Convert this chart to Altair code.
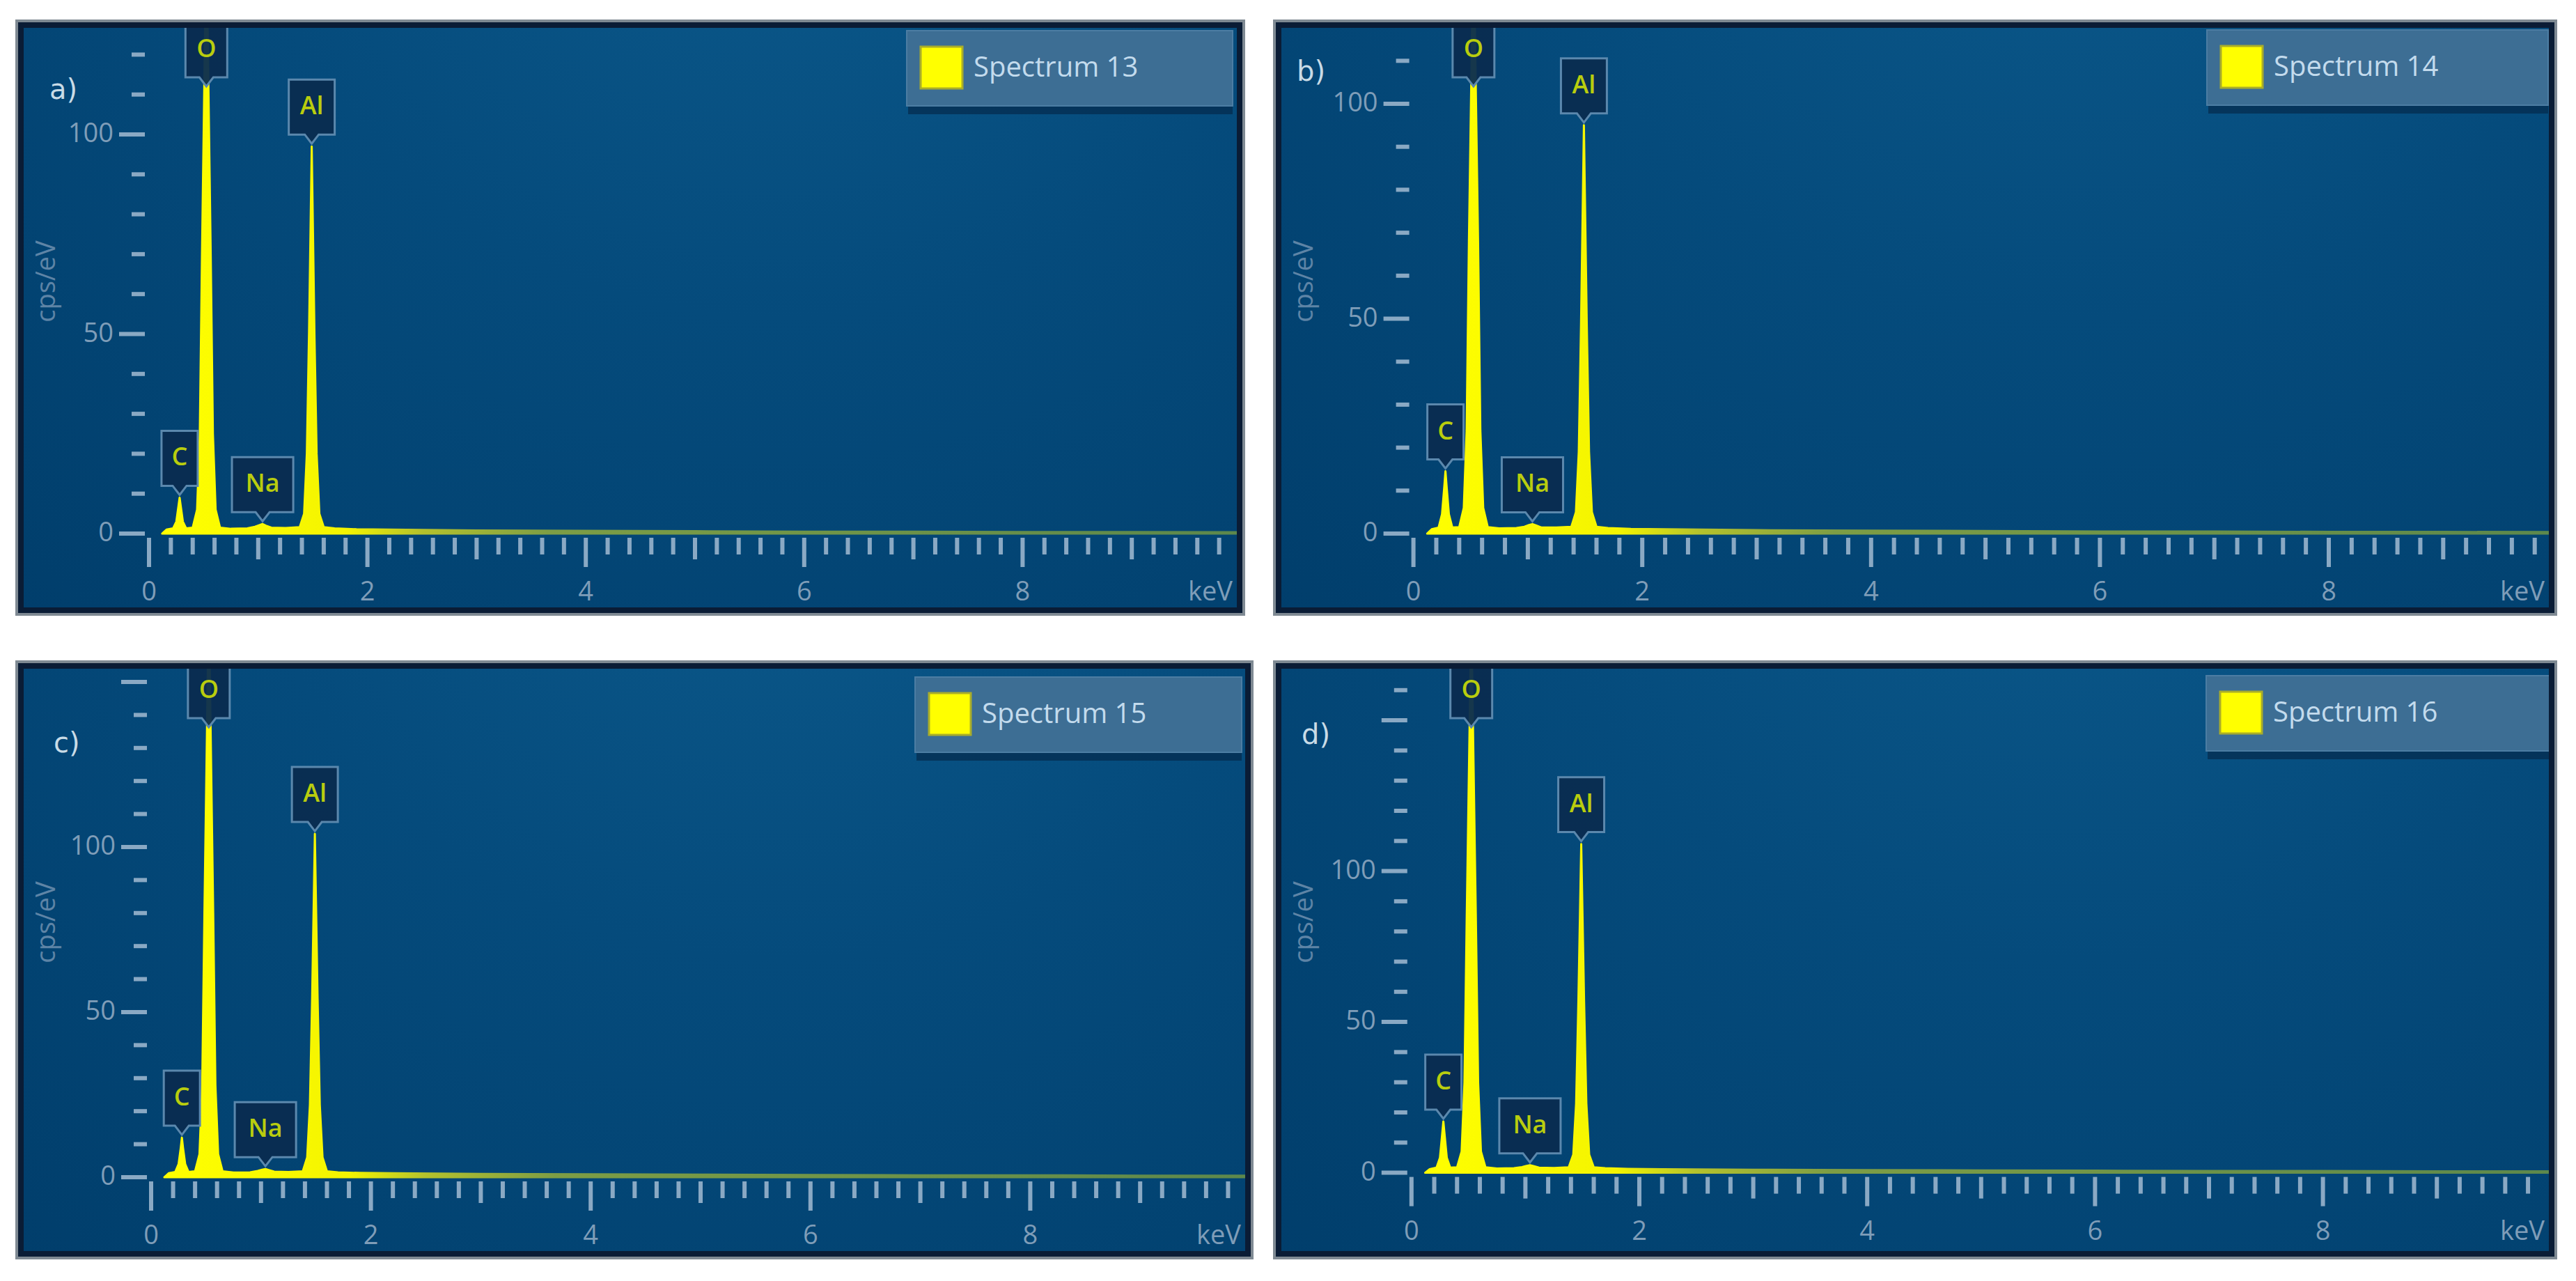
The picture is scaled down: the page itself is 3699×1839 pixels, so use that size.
import altair as alt
import pandas as pd

# ------------------------------------------------------------------ data
panel_tags = ["a)", "b)", "c)", "d)"]
spectrum_names = ["Spectrum 13", "Spectrum 14", "Spectrum 15", "Spectrum 16"]

elements = ["C", "O", "Na", "Al"]
element_kev = [0.28, 0.525, 1.04, 1.49]

energy_kev = [0.12, 0.16, 0.22, 0.25, 0.27, 0.28, 0.29, 0.31, 0.34, 0.40,
              0.44, 0.465, 0.485, 0.525, 0.565, 0.585, 0.61, 0.65, 0.75, 0.90,
              0.97, 1.01, 1.04, 1.07, 1.12, 1.25, 1.38, 1.42, 1.445, 1.465,
              1.49, 1.515, 1.535, 1.56, 1.60, 1.70, 1.90, 2.20, 3.0, 4.0,
              5.0, 6.0, 7.0, 8.0, 9.0, 10.0]

counts_13 = [0, 1.0, 1.3, 3, 7, 9, 7, 3, 1.3, 1.5,
             6, 25, 70, 150, 70, 25, 6, 1.5, 1.2, 1.3,
             1.7, 2.1, 2.4, 2.0, 1.5, 1.4, 1.6, 5, 20, 50,
             97, 50, 20, 5, 1.6, 1.3, 1.1, 1.0, 0.8, 0.7,
             0.6, 0.5, 0.5, 0.4, 0.4, 0.35]
counts_14 = [0, 1.0, 1.4, 4.5, 11, 14.5, 11, 4.5, 1.4, 1.5,
             6, 24, 68, 140, 68, 24, 6, 1.5, 1.2, 1.3,
             1.6, 2.0, 2.2, 1.9, 1.4, 1.4, 1.6, 5, 19, 49,
             95, 49, 19, 5, 1.6, 1.3, 1.1, 1.0, 0.8, 0.7,
             0.6, 0.5, 0.5, 0.4, 0.4, 0.35]
counts_15 = [0, 1.2, 1.6, 4, 9, 12, 9, 4, 1.6, 1.8,
             7, 28, 80, 175, 80, 28, 7, 1.8, 1.4, 1.5,
             1.9, 2.3, 2.5, 2.2, 1.7, 1.6, 1.8, 6, 22, 54,
             104, 54, 22, 6, 1.8, 1.5, 1.3, 1.2, 1.0, 0.9,
             0.8, 0.7, 0.6, 0.6, 0.5, 0.5]
counts_16 = [0, 1.2, 1.7, 5, 13, 17, 13, 5, 1.7, 1.8,
             7, 30, 85, 185, 85, 30, 7, 1.8, 1.4, 1.5,
             1.9, 2.3, 2.5, 2.2, 1.7, 1.6, 1.8, 6, 23, 57,
             109, 57, 23, 6, 1.8, 1.5, 1.3, 1.2, 1.0, 0.9,
             0.8, 0.7, 0.6, 0.6, 0.5, 0.5]
all_counts = [counts_13, counts_14, counts_15, counts_16]

y_major_ticks = [0, 50, 100, 150]
y_tick_labels = [0, 50, 100]
y_minor_ticks = [10, 20, 30, 40, 60, 70, 80, 90, 110, 120, 130, 140, 160]
x_tick_labels = [0, 2, 4, 6, 8]
x_odd_ticks = [1, 3, 5, 7, 9]
x_fine_ticks = [round(i * 0.2, 1) for i in range(1, 50) if i % 5 != 0]

# ------------------------------------------------------------------ layout / style
PANEL_W = [1766, 1844, 1778, 1844]
PANEL_H = [856, 856, 860, 860]
X0_PX = [192, 201.6, 195, 198.8]        # pixel of 0 keV from panel left
PX_PER_KEV = [156.8, 164.3, 157.8, 163.6]
Y0_PX = [738, 738, 742, 735.6]          # pixel of 0 cps/eV from panel top
PX_PER_UNIT = [5.73, 6.17, 4.74, 4.33]
TAG_POS = [(49, 102), (34, 76), (55, 120), (41, 108)]
LEGEND_W = [468, 490, 469, 495]
LEGEND_TOP = [16, 15, 24, 22]
LEGEND_RIGHT_INSET = [18, 13, 17, 9]
LEGEND_H = 108
TOP_LABEL_TIP_PX = 100                  # clipped-peak label tip, px below panel top

FONT = "Open Sans"
TICK = "#8aa9c4"
LABEL = "#7f9db8"
TITLE = "#5e84a6"
BOX_FILL = "#0a2c50"
BOX_STROKE = "#5b88ad"
EL_COLOR = "#b9cd0e"

bg_grad = alt.RadialGradient(
    gradient="radial", x1=0.62, y1=0.05, r1=0, x2=0.62, y2=0.05, r2=1.0,
    stops=[alt.GradientStop(color="#0d5c8e", offset=0),
           alt.GradientStop(color="#054b7c", offset=0.45),
           alt.GradientStop(color="#003c69", offset=1)])

fill_grad = alt.LinearGradient(
    gradient="linear", x1=0, x2=1, y1=0, y2=0,
    stops=[alt.GradientStop(color="#ffff00", offset=0),
           alt.GradientStop(color="#f4f400", offset=0.17),
           alt.GradientStop(color="#b5c22c", offset=0.24),
           alt.GradientStop(color="#7d9d45", offset=0.36),
           alt.GradientStop(color="#5d884c", offset=1)])


def box_path(half_w_px):
    h = half_w_px / 46.0
    return (f"M{-h:.3f},-1L{h:.3f},-1L{h:.3f},0.717L0.217,0.717L0,1"
            f"L-0.217,0.717L{-h:.3f},0.717Z")


BOX_PATHS = [box_path(26), box_path(30), box_path(44), box_path(33)]


def panel(i):
    W, H = PANEL_W[i], PANEL_H[i]
    x0, pxk, y0, ppu = X0_PX[i], PX_PER_KEV[i], Y0_PX[i], PX_PER_UNIT[i]
    xmin, xmax = -x0 / pxk, (W - x0) / pxk
    ymax, ymin = y0 / ppu, -(H - y0) / ppu
    xs = alt.Scale(domain=[xmin, xmax], nice=False, zero=False)
    ys = alt.Scale(domain=[ymin, ymax], nice=False, zero=False)

    def X(f):
        return alt.X(f, scale=xs, axis=None)

    def Y(f):
        return alt.Y(f, scale=ys, axis=None)

    def XD(v):
        return alt.XDatum(v, scale=xs, axis=None)

    def YD(v):
        return alt.YDatum(v, scale=ys, axis=None)

    one = pd.DataFrame({"k": [0]})
    counts = all_counts[i]

    bg = alt.Chart(one).mark_rect(fill=bg_grad).encode(
        x=XD(xmin), x2=alt.X2Datum(xmax), y=YD(ymin), y2=alt.Y2Datum(ymax))
    # panel frame (kept inside the panel)
    frame_grey = alt.Chart(one).mark_rect(filled=False, stroke="#7f8a93", strokeWidth=4).encode(
        x=alt.value(2), x2=alt.value(W - 2), y=alt.value(2), y2=alt.value(H - 2))
    frame_dark = alt.Chart(one).mark_rect(filled=False, stroke="#0a1c35", strokeWidth=8).encode(
        x=alt.value(8), x2=alt.value(W - 8), y=alt.value(8), y2=alt.value(H - 8))

    spec = pd.DataFrame({"e": energy_kev, "c": counts})
    area = alt.Chart(spec).mark_area(
        clip=True, fill=fill_grad, stroke=fill_grad, strokeWidth=3, strokeJoin="round"
    ).encode(x=X("e:Q"), y=Y("c:Q"), y2=alt.Y2Datum(0))

    # y ticks
    maj = [v for v in y_major_ticks if v <= ymax - 2]
    mnr = [v for v in y_minor_ticks if v <= ymax - 2]
    y_maj = alt.Chart(pd.DataFrame({"v": maj})).mark_rule(
        color=TICK, strokeWidth=6, xOffset=-43, x2Offset=-6
    ).encode(y=Y("v:Q"), x=XD(0), x2=alt.X2Datum(0))
    y_min = alt.Chart(pd.DataFrame({"v": mnr})).mark_rule(
        color=TICK, strokeWidth=6, xOffset=-25, x2Offset=-6
    ).encode(y=Y("v:Q"), x=XD(0), x2=alt.X2Datum(0))
    y_lab = alt.Chart(pd.DataFrame({"v": y_tick_labels})).mark_text(
        align="right", baseline="middle", dx=-51, font=FONT, fontSize=38, color=LABEL
    ).encode(y=Y("v:Q"), x=XD(0), text="v:Q")

    # x ticks
    x_even = alt.Chart(pd.DataFrame({"v": x_tick_labels})).mark_rule(
        color=TICK, strokeWidth=6, yOffset=6, y2Offset=48
    ).encode(x=X("v:Q"), y=YD(0), y2=alt.Y2Datum(0))
    x_odd = alt.Chart(pd.DataFrame({"v": x_odd_ticks})).mark_rule(
        color=TICK, strokeWidth=6, yOffset=6, y2Offset=37
    ).encode(x=X("v:Q"), y=YD(0), y2=alt.Y2Datum(0))
    x_fine = alt.Chart(pd.DataFrame({"v": x_fine_ticks})).mark_rule(
        color=TICK, strokeWidth=6, yOffset=6, y2Offset=30
    ).encode(x=X("v:Q"), y=YD(0), y2=alt.Y2Datum(0))
    x_lab = alt.Chart(pd.DataFrame({"v": x_tick_labels})).mark_text(
        align="center", baseline="alphabetic", dy=96, font=FONT, fontSize=38, color=LABEL
    ).encode(x=X("v:Q"), y=YD(0), text="v:Q")
    kev = alt.Chart(one).mark_text(
        align="right", baseline="alphabetic", dy=96, font=FONT, fontSize=38, color=LABEL
    ).encode(x=alt.value(W - 18), y=YD(0), text=alt.value("keV"))

    # peak label boxes
    peaks = [counts[energy_kev.index(e)] for e in element_kev]
    o_cap = ymax - TOP_LABEL_TIP_PX / ppu
    anchors = [min(p, o_cap) for p in peaks]
    lab_df = pd.DataFrame({"el": elements, "e": element_kev, "a": anchors})
    boxes = alt.Chart(lab_df).mark_point(
        filled=True, fill=BOX_FILL, stroke=BOX_STROKE, strokeWidth=3, size=8464,
        opacity=1, fillOpacity=0.95, yOffset=-50, clip=True
    ).encode(x=X("e:Q"), y=Y("a:Q"),
             shape=alt.Shape("el:N", scale=alt.Scale(domain=elements, range=BOX_PATHS),
                             legend=None))
    el_text = alt.Chart(lab_df).mark_text(
        baseline="middle", align="center", dy=-57, font=FONT, fontSize=36,
        fontWeight=600, color=EL_COLOR, clip=True
    ).encode(x=X("e:Q"), y=Y("a:Q"), text="el:N")

    # axis title and panel tag
    ytitle = alt.Chart(one).mark_text(
        angle=270, align="center", baseline="middle", font=FONT, fontSize=38, color=TITLE
    ).encode(x=alt.value(46), y=alt.value(376), text=alt.value("cps/eV"))
    tx, ty = TAG_POS[i]
    tag = alt.Chart(one).mark_text(
        align="left", baseline="middle", font="DejaVu Sans", fontSize=40, color="#c9dbe6"
    ).encode(x=alt.value(tx), y=alt.value(ty), text=alt.value(panel_tags[i]))

    # legend box
    R = W - LEGEND_RIGHT_INSET[i]
    L = R - LEGEND_W[i]
    T = LEGEND_TOP[i]
    B = T + LEGEND_H
    shadow = alt.Chart(one).mark_rect(fill="#042a4c", opacity=0.7).encode(
        x=alt.value(L + 2), x2=alt.value(R), y=alt.value(B), y2=alt.value(B + 12))
    lbox = alt.Chart(one).mark_rect(fill="#3d6e94", stroke="#4c7da3", strokeWidth=2).encode(
        x=alt.value(L), x2=alt.value(R), y=alt.value(T), y2=alt.value(B))
    lsq = alt.Chart(one).mark_rect(fill="#ffff00", stroke="#a9ad2a", strokeWidth=3).encode(
        x=alt.value(L + 20), x2=alt.value(L + 80), y=alt.value(T + 23), y2=alt.value(T + 83))
    ltxt = alt.Chart(one).mark_text(
        align="left", baseline="middle", font=FONT, fontSize=40, color="#c3dbed"
    ).encode(x=alt.value(L + 96), y=alt.value(T + 54), text=alt.value(spectrum_names[i]))

    return alt.layer(
        bg, area, y_maj, y_min, y_lab, x_even, x_odd, x_fine, x_lab, kev,
        boxes, el_text, ytitle, tag, shadow, lbox, lsq, ltxt, frame_grey, frame_dark
    ).properties(width=W, height=H)


top = alt.hconcat(panel(0), panel(1), spacing=40)
bottom = alt.hconcat(panel(2), panel(3), spacing=28)
chart = alt.vconcat(top, bottom, spacing=64).properties(
    padding={"left": 14, "top": 20, "right": 4, "bottom": 4}
).configure_view(strokeWidth=0)

chart.save("out.html", embed_options={"renderer": "svg", "actions": False})
